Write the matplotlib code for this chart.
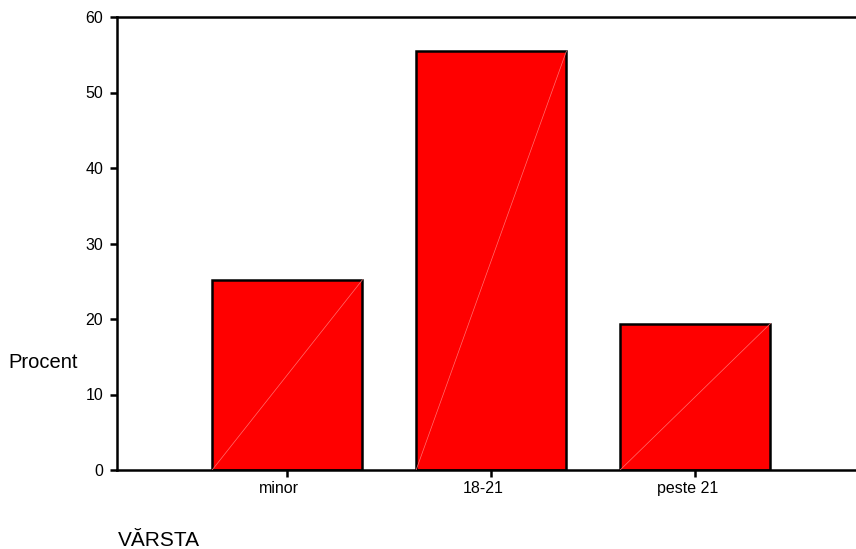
import matplotlib.pyplot as plt
import matplotlib.transforms as mtransforms
import numpy as np

plt.rcParams['font.family'] = ['Liberation Sans', 'DejaVu Sans']

categories = ["minor", "18-21", "peste 21"]
procent = [25.2, 55.5, 19.4]
yticks = [0, 10, 20, 30, 40, 50, 60]

fig = plt.figure(figsize=(8.56, 5.49), dpi=100)
ax = fig.add_axes([117 / 856, 1 - 470 / 549, 1 - 117 / 856 + 0.01, (470 - 17) / 549])

x = np.arange(len(categories))
bars = ax.bar(x, procent, width=0.737, color="#ff0000", edgecolor="black", linewidth=1.8, zorder=2)

# thin light diagonal inside each bar (SPSS render artefact)
for b in bars:
    x0 = b.get_x()
    ax.plot([x0, x0 + b.get_width()], [0, b.get_height()], color="#ff7070", lw=0.5, zorder=3)

ax.set_xlim(-0.835, 2.83)
ax.set_ylim(0, 60)
ax.set_xticks(x)
ax.set_xticklabels(categories, fontsize=11.5)
ax.set_yticks(yticks)
ax.set_yticklabels([str(t) for t in yticks], fontsize=11.5)
ax.tick_params(axis="both", direction="out", length=5, width=1.8, pad=3)
ax.tick_params(axis="y", pad=5)

# category labels sit a little left of their ticks in the original
shift = mtransforms.ScaledTranslation(-8 / 100, 0, fig.dpi_scale_trans)
for lbl in ax.get_xticklabels():
    lbl.set_transform(lbl.get_transform() + shift)

for s in ["left", "bottom", "top"]:
    ax.spines[s].set_linewidth(1.8)
ax.spines["right"].set_visible(False)

fig.text(8 / 856, 1 - 363 / 549, "Procent", fontsize=14.5, va="center", ha="left")
fig.text(118 / 856, 1 - 540 / 549, "VĂRSTA", fontsize=15, va="center", ha="left")

fig.savefig("out.png", dpi=100)
